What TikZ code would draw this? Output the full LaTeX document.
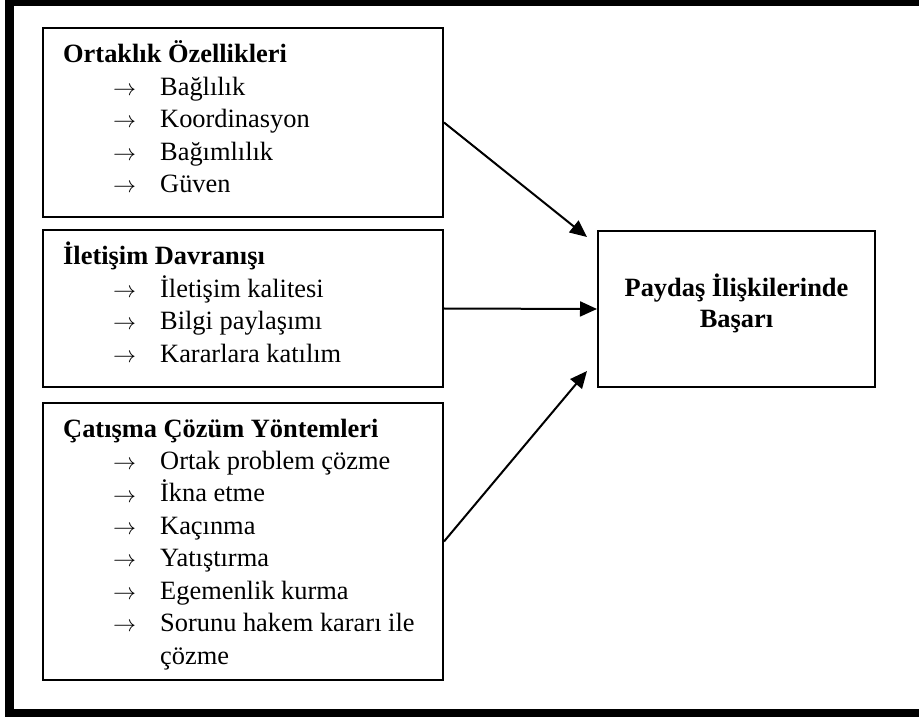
\RequirePackage{fix-cm}
\documentclass[tikz,border=0pt]{standalone}
\usepackage{graphicx}
\usepackage{fontspec}
\setmainfont{Liberation Serif}
\usetikzlibrary{arrows.meta,calc}
\newcommand\itm[1]{\hspace*{50pt}\makebox[47pt][l]{\resizebox{23pt}{!}{$\rightarrow$}}#1}
\newcommand\cnt[1]{\hspace*{97pt}#1}
\begin{document}
\begin{tikzpicture}[x=1pt,y=-1pt,
  box/.style={draw,line width=2pt,rectangle,inner sep=0pt},
  lbl/.style={inner sep=0pt,anchor=base west,font=\fontsize{26.4}{32.5}\selectfont},
  conn/.style={line width=2pt,-{Triangle[length=17pt,width=15pt]}}]
\useasboundingbox (0,0) rectangle (919,719);
\clip (0,0) rectangle (919,719);
\fill[white] (0,0) rectangle (919,719);
\draw[line width=8.5pt] (9.5,1.5) rectangle (935,713);
% boxes
\node[box,minimum width=400pt,minimum height=189pt] (b1) at (243,122.5) {};
\node[box,minimum width=400pt,minimum height=157pt] (b2) at (243,308.5) {};
\node[box,minimum width=400pt,minimum height=277pt] (b3) at (243,541.5) {};
\node[box,minimum width=277pt,minimum height=156pt] (r) at (736.5,309) {};
% texts
\node[lbl] (t1) at (63,63) {\begin{tabular}[t]{@{}l@{}}
\textbf{Ortaklık Özellikleri}\\
\itm{Bağlılık}\\
\itm{Koordinasyon}\\
\itm{Bağımlılık}\\
\itm{Güven}
\end{tabular}};
\node[lbl] (t2) at (63,265) {\begin{tabular}[t]{@{}l@{}}
\textbf{İletişim Davranışı}\\
\itm{İletişim kalitesi}\\
\itm{Bilgi paylaşımı}\\
\itm{Kararlara katılım}
\end{tabular}};
\node[lbl] (t3) at (63,437) {\begin{tabular}[t]{@{}l@{}}
\textbf{Çatışma Çözüm Yöntemleri}\\
\itm{Ortak problem çözme}\\
\itm{İkna etme}\\
\itm{Kaçınma}\\
\itm{Yatıştırma}\\
\itm{Egemenlik kurma}\\
\itm{Sorunu hakem kararı ile}\\
\cnt{çözme}
\end{tabular}};
\node[inner sep=0pt,anchor=base,font=\fontsize{26.4}{31}\selectfont\bfseries] (rt) at (736.5,297) {\begin{tabular}[t]{@{}c@{}}
Paydaş İlişkilerinde\\
Başarı
\end{tabular}};
% connectors
\coordinate (p1) at ($(r.north west)+(-10,7)$);
\coordinate (p3) at ($(r.south west)+(-10,-17)$);
\draw[conn] (b1.east) -- (p1);
\draw[conn] (b2.east) -- (r.west);
\draw[conn] (b3.east) -- (p3);
\end{tikzpicture}
\end{document}
